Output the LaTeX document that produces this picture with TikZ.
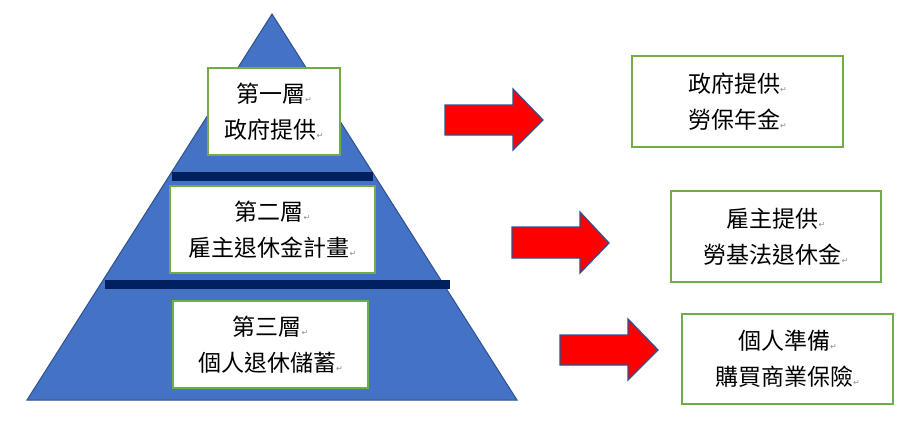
\documentclass[tikz,border=0pt]{standalone}
\usepackage{fontspec}
\newfontfamily\cjk{Noto Sans CJK TC}
\newfontfamily\dejavu{DejaVu Sans}
\newcommand{\rmk}{{\dejavu\fontsize{8}{8}\selectfont\textcolor{black!45}{↵}}}
\definecolor{triblue}{HTML}{4472C4}
\definecolor{edgeblue}{HTML}{2F528F}
\definecolor{navy}{HTML}{002060}
\definecolor{boxgreen}{HTML}{70AD47}
\tikzset{
  tri/.style={fill=triblue,draw=edgeblue,line width=1pt},
  bar/.style={fill=navy},
  box/.style={draw=boxgreen,line width=2pt,fill=white,align=center,inner sep=0pt,
    font={\cjk\fontsize{23}{36}\selectfont}},
  blockarrow/.style={fill=red,draw=edgeblue,line width=1.3pt,line join=miter}
}
\begin{document}
\begin{tikzpicture}[x=1pt,y=-1pt]
\useasboundingbox (0,0) rectangle (909,424);
% pyramid
\path[tri] (272,14) -- (517,400) -- (27,400) -- cycle;
\fill[bar] (172,172) rectangle (373,181);
\fill[bar] (105,280) rectangle (450,289);
% layer boxes
\node[box,minimum width=132,minimum height=87] (l1) at (274,111.5) {第一層\rmk\\政府提供\rmk};
\node[box,minimum width=205,minimum height=87] (l2) at (272.5,229.5) {第二層\rmk\\雇主退休金計畫\rmk};
\node[box,minimum width=195,minimum height=87] (l3) at (270.5,344.5) {第三層\rmk\\個人退休儲蓄\rmk};
% right boxes
\node[box,minimum width=211,minimum height=91] (r1) at (737.5,101.5) {政府提供\rmk\\勞保年金\rmk};
\node[box,minimum width=210,minimum height=91] (r2) at (776,236.5) {雇主提供\rmk\\勞基法退休金\rmk};
\node[box,minimum width=211,minimum height=90] (r3) at (787.5,359) {個人準備\rmk\\購買商業保險\rmk};
% block arrows
\path[blockarrow] (445,105) -- (513,105) -- (513,89) -- (543,120) -- (513,150) -- (513,135) -- (445,135) -- cycle;
\path[blockarrow] (512,227) -- (580,227) -- (580,212) -- (609,243) -- (580,273) -- (580,258) -- (512,258) -- cycle;
\path[blockarrow] (560,335) -- (628,335) -- (628,319) -- (658,350) -- (628,380) -- (628,365) -- (560,365) -- cycle;
\end{tikzpicture}
\end{document}
